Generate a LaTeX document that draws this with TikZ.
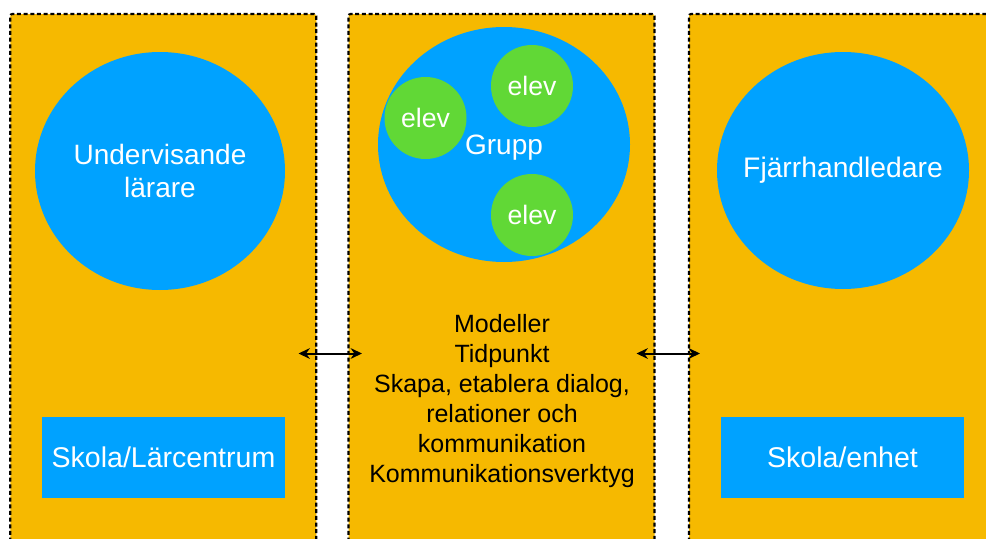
\documentclass[tikz,border=0pt]{standalone}
\usepackage{fontspec}
\setmainfont{Liberation Sans}
\usetikzlibrary{positioning,shapes,arrows.meta}

\definecolor{panelorange}{HTML}{F6B900}
\definecolor{rollblue}{HTML}{00A2FF}
\definecolor{elevgreen}{HTML}{61D836}

\tikzstyle{panel}=[rectangle, draw=black, fill=panelorange, line width=1.6pt,
        dash pattern=on 3pt off 2pt, rounded corners=1.5pt, minimum width=229.5pt, minimum height=424.5pt]
\tikzstyle{roll}=[ellipse, fill=rollblue, inner sep=0pt]
\tikzstyle{rolltext}=[text=white, align=center, inner sep=0pt]
\tikzstyle{elev}=[circle, fill=elevgreen, inner sep=0pt, minimum size=61.5pt, text=white,
        font=\fontsize{20}{24}\selectfont]
\tikzstyle{skola}=[rectangle, fill=rollblue, minimum width=182.25pt, minimum height=60.75pt,
        text=white, font=\fontsize{21.4}{25}\selectfont]
\tikzstyle{myarrow}=[<->, >={Stealth[length=8.5pt,width=8pt]}, line width=1.5pt]

\begin{document}
\begin{tikzpicture}[x=0.75pt, y=-0.75pt]
    \clip (0,0) rectangle (986,539);

    % three columns
    \node (Vanster) [panel] at (163.25,297) {};
    \node (Mitten) [panel] at (501.5,297) {};
    \node (Hoger) [panel] at (842,297) {};

    \node (Larare) [roll, minimum width=187.5pt, minimum height=178.5pt,
        label={[rolltext, font=\fontsize{21}{24.3}\selectfont]center:Undervisande\\l\"arare}] at (160,171) {};

    \node (Grupp) [roll, minimum width=189pt, minimum height=176.25pt,
        label={[rolltext, yshift=-2.5pt, font=\fontsize{21}{25}\selectfont]center:Grupp}] at (504,144.5) {};
    \node (ElevA) [elev] at (425.5,118) {elev};
    \node (ElevB) [elev] at (532,86) {elev};
    \node (ElevC) [elev] at (532,215) {elev};

    \node (Handledare) [roll, minimum width=189pt, minimum height=177.75pt,
        label={[rolltext, font=\fontsize{21.2}{25}\selectfont]center:Fj\"arrhandledare}] at (843,170.5) {};

    \node (Innehall) [align=center, font=\fontsize{18.75}{22.5}\selectfont] at (502,401)
        {Modeller\\Tidpunkt\\Skapa, etablera dialog,\\relationer och\\kommunikation\\Kommunikationsverktyg};

    \node (Skola) [skola] at (163.5,457.5) {Skola/L\"arcentrum};
    \node (Enhet) [skola] at (842.5,457.5) {Skola/enhet};

    \coordinate (PilA) at (298.5,353.5);
    \coordinate (PilB) at (362,353.5);
    \coordinate (PilC) at (636.5,353.5);
    \coordinate (PilD) at (700,353.5);
    \draw[myarrow] (PilA) -- (PilB);
    \draw[myarrow] (PilC) -- (PilD);
\end{tikzpicture}
\end{document}
